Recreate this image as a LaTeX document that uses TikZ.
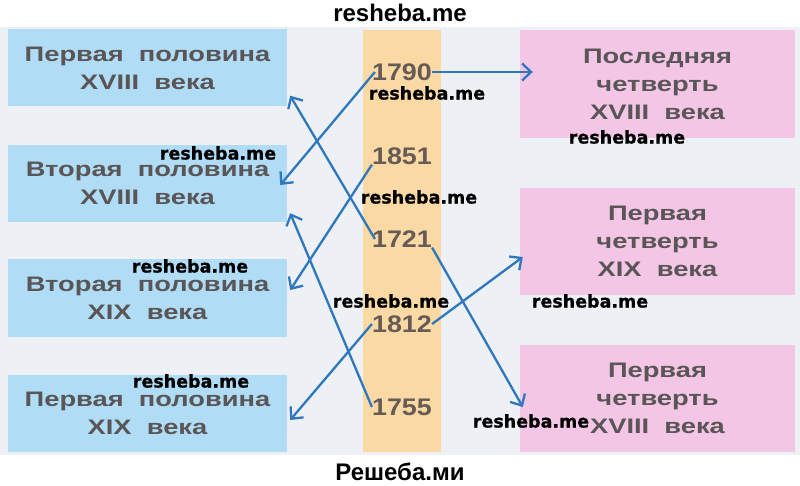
\documentclass[tikz,border=0pt]{standalone}
\usepackage{fontspec}
\setmainfont{Liberation Sans}
\newfontfamily\boxfont[FakeStretch=1.3]{Liberation Sans}
\newfontfamily\yearfont[FakeStretch=1.12]{Liberation Sans}
\newfontfamily\wmfont[FakeBold=0.8]{DejaVu Sans}
\usetikzlibrary{arrows.meta, positioning}
\definecolor{PanelGray}{HTML}{EDF0F5}
\definecolor{BoxBlue}{HTML}{B0DDF5}
\definecolor{BoxPink}{HTML}{F4C6E5}
\definecolor{ColumnPeach}{HTML}{FAD9A5}
\definecolor{LabelGray}{HTML}{5A5557}
\definecolor{YearGray}{HTML}{675C55}
\definecolor{ArrowBlue}{HTML}{2F78BE}
\tikzset{
  leftbox/.style={rectangle, fill=BoxBlue, minimum width=279pt, minimum height=77pt, inner sep=0pt, align=center, text=LabelGray, font=\boxfont\bfseries\fontsize{21}{28}\selectfont},
  rightbox/.style={leftbox, fill=BoxPink, minimum width=275pt, minimum height=107pt},
  yearcol/.style={rectangle, fill=ColumnPeach, minimum width=78pt, minimum height=422pt, inner sep=0pt},
  yearnode/.style={inner sep=0pt, text=YearGray, font=\yearfont\bfseries\fontsize{24}{24}\selectfont},
  arrow/.style={-{Straight Barb[length=9pt,width=17pt]}, line width=2.3pt, ArrowBlue},
  wmtext/.style={inner sep=0pt, font=\wmfont\bfseries\fontsize{17.5}{18}\selectfont},
  sitetext/.style={inner sep=0pt, font=\bfseries\fontsize{24}{24}\selectfont}
}

\begin{document}
\begin{tikzpicture}[x=1pt, y=-1pt]
  \useasboundingbox (0,0) rectangle (800,486);
  \fill[white] (0,0) rectangle (800,486);
  \fill[PanelGray] (0,27) rectangle (800,455);

  \node[leftbox] (lb1) at (147.5,68) {Первая~~половина\\XVIII~~века};
  \node[leftbox] (lb2) at (147.5,183.5) {Вторая~~половина\\XVIII~~века};
  \node[leftbox] (lb3) at (147.5,298) {Вторая~~половина\\XIX~~века};
  \node[leftbox] (lb4) at (147.5,413) {Первая~~половина\\XIX~~века};

  \node[yearcol] (col) at (402,241) {};
  \node[yearnode] (y1790) at (402,72) {1790};
  \node[yearnode] (y1851) at (402,156) {1851};
  \node[yearnode] (y1721) at (402,239) {1721};
  \node[yearnode] (y1812) at (402,324) {1812};
  \node[yearnode] (y1755) at (402,407) {1755};

  \node[rightbox, minimum height=108pt] (rb1) at (657.5,84) {Последняя\\четверть\\XVIII~~века};
  \node[rightbox] (rb2) at (657.5,241.5) {Первая\\четверть\\XIX~~века};
  \node[rightbox] (rb3) at (657.5,398.5) {Первая\\четверть\\XVIII~~века};

  \draw[arrow] ([xshift=3pt]y1790.west) -- ([xshift=-7pt,yshift=-1.5pt]lb2.east);
  \draw[arrow, shorten >=-13pt] (y1790.east) -- (y1790.east -| rb1.west);
  \draw[arrow] ([xshift=3pt]y1721.west) -- ([xshift=3pt,yshift=11pt]lb1.south east);
  \draw[arrow] (y1721.south east) -- ([xshift=3pt,yshift=-8.5pt]rb3.west);
  \draw[arrow] (y1851.south west) -- ([xshift=3pt,yshift=8pt]lb3.east);
  \draw[arrow] (y1812.west) -- ([xshift=3pt,yshift=-7pt]lb4.east);
  \draw[arrow] (y1812.east) -- ([xshift=3pt,yshift=-15.5pt]rb2.west);
  \draw[arrow] (y1755.west) -- ([xshift=3pt,yshift=9pt]lb2.south east);

  \node[sitetext] (top) at (400,13) {resheba.me};
  \node[sitetext] (bottom) at (400,472) {Решеба.ми};
  \node[wmtext] (w1) at (427,93) {resheba.me};
  \node[wmtext] (w2) at (627,137) {resheba.me};
  \node[wmtext] (w3) at (218,153) {resheba.me};
  \node[wmtext] (w4) at (419,197) {resheba.me};
  \node[wmtext] (w5) at (190,266) {resheba.me};
  \node[wmtext] (w6) at (391,301) {resheba.me};
  \node[wmtext] (w7) at (590,301) {resheba.me};
  \node[wmtext] (w8) at (191,381) {resheba.me};
  \node[wmtext] (w9) at (531,421) {resheba.me};
\end{tikzpicture}
\end{document}
